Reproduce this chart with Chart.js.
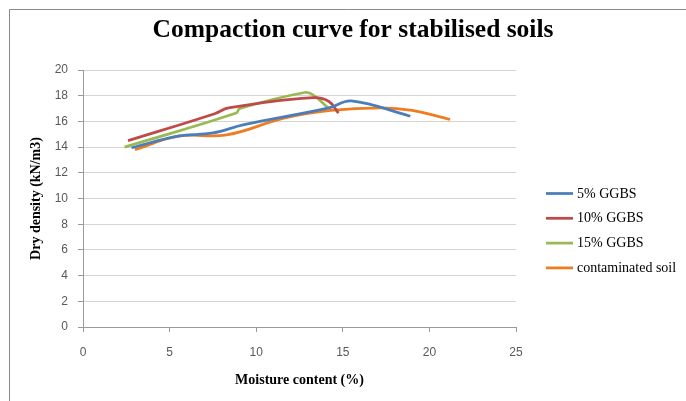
<!DOCTYPE html>
<html>
<head>
<meta charset="utf-8">
<script src="https://cdn.jsdelivr.net/npm/chart.js@4.4.1/dist/chart.umd.min.js"></script>
<style>
  body { margin: 0; background: #fff; }
  #wrap { width: 686px; height: 401px; }
</style>
</head>
<body>
<div id="wrap"><canvas id="myChart" width="686" height="401"></canvas></div>
<script>
// moisture content (%) and dry density (kN/m3)
var seriesNames = ['5% GGBS', '10% GGBS', '15% GGBS', 'contaminated soil'];
var seriesColors = ['#4A7EBB', '#BE4B48', '#98B954', '#EE7D22'];

var moisture5 = [2.8, 5.5, 7.5, 9.3, 14.2, 15.5, 18.9];
var density5 = [13.95, 14.85, 15.1, 15.75, 17.05, 17.6, 16.4];

var moisture10 = [2.6, 7.6, 8.4, 13.3, 14.2, 14.75];
var density10 = [14.5, 16.6, 17.05, 17.85, 17.55, 16.65];

var moisture15 = [2.4, 8.85, 9.05, 12.8, 13.3, 14.15];
var density15 = [14.0, 16.65, 17.0, 18.25, 18.05, 17.05];

var moistureSoil = [3.0, 5.5, 8.3, 11.6, 14.3, 17.2, 19.0, 21.2];
var densitySoil = [13.8, 14.85, 14.95, 16.25, 16.85, 17.05, 16.85, 16.15];

var xTicks = [0, 5, 10, 15, 20, 25];
var yTicks = [0, 2, 4, 6, 8, 10, 12, 14, 16, 18, 20];

function pts(xs, ys) {
  var out = [];
  for (var i = 0; i < xs.length; i++) out.push({x: xs[i], y: ys[i]});
  return out;
}

var allX = [moisture5, moisture10, moisture15, moistureSoil];
var allY = [density5, density10, density15, densitySoil];
var datasets = [];
for (var i = 0; i < seriesNames.length; i++) {
  datasets.push({
    label: seriesNames[i],
    data: pts(allX[i], allY[i]),
    showLine: true,
    borderColor: seriesColors[i],
    backgroundColor: seriesColors[i],
    borderWidth: 2.75,
    pointRadius: 0,
    tension: 0.4,
    fill: false
  });
}

// frame around the chart (only top and left visible in the crop)
var framePlugin = {
  id: 'frame',
  beforeDraw: function(chart) {
    var c = chart.ctx;
    c.save();
    c.strokeStyle = '#8a8a8a';
    c.lineWidth = 1;
    c.beginPath();
    c.moveTo(9.5, chart.height);
    c.lineTo(9.5, 9.5);
    c.lineTo(chart.width, 9.5);
    c.stroke();
    c.restore();
  }
};

// legend on the right, drawn from the datasets
var sideLegend = {
  id: 'sideLegend',
  afterDraw: function(chart) {
    var c = chart.ctx;
    var x0 = chart.chartArea.right + 30;
    c.save();
    c.font = '14px "Liberation Serif"';
    c.textBaseline = 'middle';
    c.fillStyle = '#000';
    chart.data.datasets.forEach(function(ds, i) {
      var y = 193.5 + i * 24.8;
      c.strokeStyle = ds.borderColor;
      c.lineWidth = 2.75;
      c.beginPath();
      c.moveTo(x0, y);
      c.lineTo(x0 + 27, y);
      c.stroke();
      c.fillText(ds.label, x0 + 31, y + 0.5);
    });
    c.restore();
  }
};

var ctx = document.getElementById('myChart').getContext('2d');
var myChart = new Chart(ctx, {
  type: 'scatter',
  data: { datasets: datasets },
  options: {
    responsive: false,
    animation: false,
    layout: { padding: { left: 20, right: 0, top: 0, bottom: 0 } },
    plugins: {
      legend: { display: false },
      tooltip: { enabled: false },
      title: {
        display: true,
        text: 'Compaction curve for stabilised soils',
        color: '#000',
        font: { family: '"Liberation Serif"', size: 25.5, weight: 'bold', lineHeight: 1 },
        padding: { top: 18, bottom: 26.5 }
      }
    },
    scales: {
      x: {
        type: 'linear',
        min: 0,
        max: 25,
        afterBuildTicks: function(s) { s.ticks = xTicks.map(function(v) { return {value: v}; }); },
        afterFit: function(s) { s.height = 74; },
        grid: { drawOnChartArea: false, tickLength: 5, tickColor: '#9a9a9a' },
        border: { color: '#9a9a9a' },
        ticks: { padding: 13, color: '#595959', font: { family: '"Liberation Sans"', size: 12 } },
        title: {
          display: true,
          text: 'Moisture content (%)',
          color: '#000',
          font: { family: '"Liberation Serif"', size: 14, weight: 'bold' },
          padding: { top: 0, bottom: 12 }
        }
      },
      y: {
        min: 0,
        max: 20,
        afterBuildTicks: function(s) { s.ticks = yTicks.map(function(v) { return {value: v}; }); },
        afterFit: function(s) { s.width = 63; },
        grid: { color: '#d4d4d4', tickLength: 5, tickColor: '#9a9a9a' },
        border: { color: '#9a9a9a' },
        ticks: { padding: 10, color: '#595959', font: { family: '"Liberation Sans"', size: 12 } },
        title: {
          display: true,
          text: 'Dry density (kN/m3)',
          color: '#000',
          font: { family: '"Liberation Serif"', size: 14, weight: 'bold' },
          padding: { top: 8, bottom: 0 }
        }
      },
      // empty axis that only reserves the room the legend sits in
      side: {
        position: 'right',
        afterFit: function(s) { s.width = 170; },
        grid: { display: false },
        border: { display: false },
        ticks: { display: false }
      }
    }
  },
  plugins: [framePlugin, sideLegend]
});
</script>
</body>
</html>
